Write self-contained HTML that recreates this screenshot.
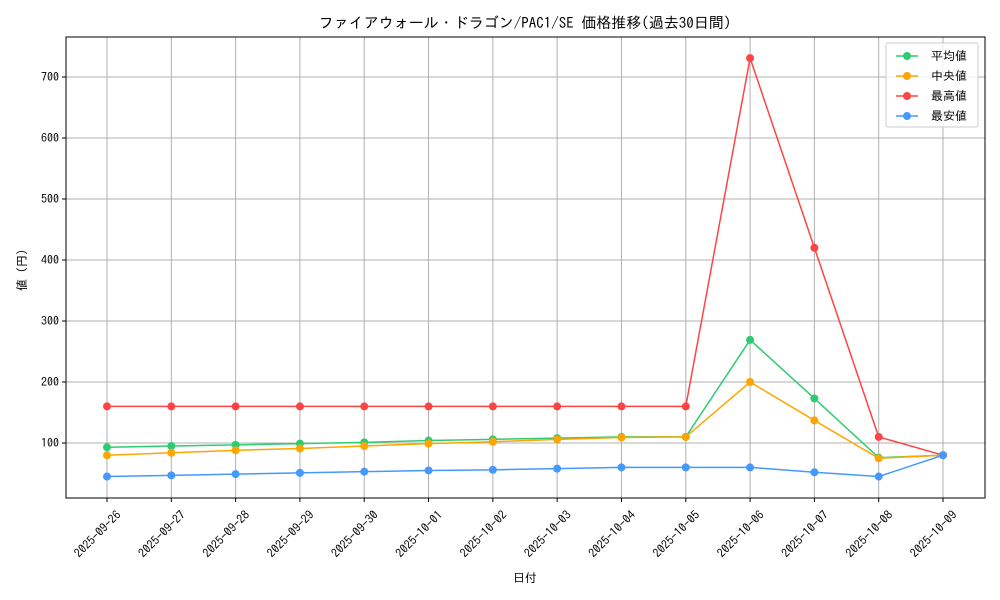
<!DOCTYPE html>
<html><head><meta charset="utf-8"><style>
body{margin:0;background:#fff}
svg{display:block;font-family:"IPAGothic","Liberation Sans","Noto Sans CJK JP",sans-serif}
</style></head><body>
<svg width="1000" height="600" viewBox="0 0 1000 600" xmlns="http://www.w3.org/2000/svg">
<rect width="1000" height="600" fill="#fff"/>
<text x="525" y="28" font-size="15" text-anchor="middle">ファイアウォール・ドラゴン/PAC1/SE 価格推移(過去30日間)</text>
<g id="grid" stroke="#b0b0b0" stroke-width="1"></g>
<g id="plot"></g>
<rect x="66" y="37" width="919" height="461" fill="none" stroke="#000" stroke-width="1"/>
<g id="ticks" font-size="12"></g>
<text x="525" y="582" font-size="12" text-anchor="middle">日付</text>
<text transform="translate(26,270) rotate(-90)" font-size="12" text-anchor="middle">値 (円)</text>
<g>
<rect x="886" y="43" width="92" height="84" fill="#fff" fill-opacity="0.8" stroke="#ccc" rx="2"/>
<line x1="896" y1="56" x2="918" y2="56" stroke="#2ecc71" stroke-width="1.5"/><circle cx="907" cy="56" r="4" fill="#2ecc71"/><text x="931" y="60" font-size="12">平均値</text>
<line x1="896" y1="76" x2="918" y2="76" stroke="#ffa500" stroke-width="1.5"/><circle cx="907" cy="76" r="4" fill="#ffa500"/><text x="931" y="80" font-size="12">中央値</text>
<line x1="896" y1="96" x2="918" y2="96" stroke="#ff4444" stroke-width="1.5"/><circle cx="907" cy="96" r="4" fill="#ff4444"/><text x="931" y="100" font-size="12">最高値</text>
<line x1="896" y1="116" x2="918" y2="116" stroke="#4499ff" stroke-width="1.5"/><circle cx="907" cy="116" r="4" fill="#4499ff"/><text x="931" y="120" font-size="12">最安値</text>
</g>
<script>
const ns="http://www.w3.org/2000/svg";
const X=i=>107+i*(943-107)/13, Y=v=>443-(v-100)*0.61;
const dates=["2025-09-26","2025-09-27","2025-09-28","2025-09-29","2025-09-30","2025-10-01","2025-10-02","2025-10-03","2025-10-04","2025-10-05","2025-10-06","2025-10-07","2025-10-08","2025-10-09"];
const g=document.getElementById("grid"),t=document.getElementById("ticks"),p=document.getElementById("plot");
function el(par,n,a,txt){const e=document.createElementNS(ns,n);for(const k in a)e.setAttribute(k,a[k]);if(txt)e.textContent=txt;par.appendChild(e);return e;}
dates.forEach((d,i)=>{const x=X(i);el(g,"line",{x1:x,x2:x,y1:37,y2:498});el(t,"line",{x1:x,x2:x,y1:498,y2:502,stroke:"#000"});
el(t,"text",{transform:`translate(${x+9},${510}) rotate(-45)`,"text-anchor":"end","dominant-baseline":"hanging"},d);});
for(let v=100;v<=700;v+=100){const y=Y(v);el(g,"line",{x1:66,x2:985,y1:y,y2:y});el(t,"line",{x1:62,x2:66,y1:y,y2:y,stroke:"#000"});el(t,"text",{x:59,y:y+4,"text-anchor":"end"},String(v));}
const S=[["#2ecc71",[93,95,97,99,101,104,106,108,110,110,269,173,76,80]],
["#ffa500",[80,84,88,91,95,99,102,106,109,110,200,137,75,80]],
["#ff4444",[160,160,160,160,160,160,160,160,160,160,731,420,110,80]],
["#4499ff",[45,47,49,51,53,55,56,58,60,60,60,52,45,80]]];
S.forEach(([c,d])=>{el(p,"polyline",{points:d.map((v,i)=>X(i)+","+Y(v)).join(" "),fill:"none",stroke:c,"stroke-width":1.5});
d.forEach((v,i)=>el(p,"circle",{cx:X(i),cy:Y(v),r:4,fill:c}));});
</script>
</svg>
</body></html>
